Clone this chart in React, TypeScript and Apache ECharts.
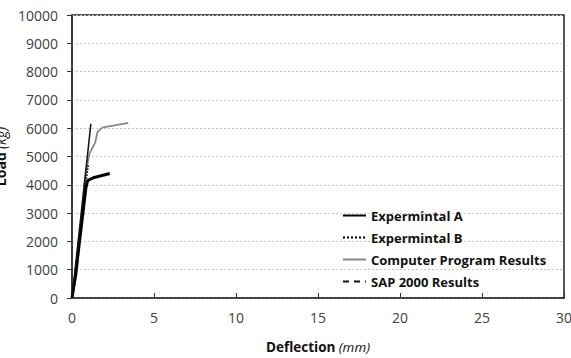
import React, { useEffect, useRef } from "react";
import * as echarts from "echarts";

const seriesNames = ["Expermintal A", "Expermintal B", "Computer Program Results", "SAP 2000 Results"];

const expA: [number, number][] = [
  [0, 0], [0.2, 750], [0.85, 3900], [0.95, 4150], [1.3, 4250], [2.3, 4400],
];
const expB: [number, number][] = [
  [0, 0], [0.15, 700], [0.75, 3700], [0.9, 4300], [1.0, 4700],
];
const computer: [number, number][] = [
  [0, 0], [0.3, 900], [0.75, 4000], [0.9, 4600], [1.06, 5100], [1.2, 5250],
  [1.4, 5470], [1.55, 5850], [1.7, 5950], [1.9, 6030], [2.6, 6100], [3.43, 6190],
];
const sap: [number, number][] = [
  [0, 0], [1.15, 6150],
];

const xTicks = { min: 0, max: 30, interval: 5 };
const yTicks = { min: 0, max: 10000, interval: 1000 };

export default function App() {
  const ref = useRef<HTMLDivElement>(null);
  useEffect(() => {
    if (!ref.current) return;
    const chart = echarts.init(ref.current, undefined, { renderer: "svg" });
    const font = "'Open Sans', sans-serif";
    chart.setOption({
      animation: false,
      backgroundColor: "#fff",
      grid: {
        left: 72, right: 7, top: 15, bottom: 60,
        containLabel: false,
        outerBoundsMode: "none",
        show: true, borderColor: "#222", borderWidth: 1.5,
      },
      legend: {
        show: true,
        orient: "vertical",
        left: 337,
        top: 204,
        itemWidth: 23,
        itemHeight: 10,
        itemGap: 9,
        itemStyle: { opacity: 0 },
        textStyle: { fontFamily: font, fontWeight: "bold", fontSize: 13, color: "#111" },
        data: [
          { name: seriesNames[0] },
          { name: seriesNames[1] },
          { name: seriesNames[2] },
          { name: seriesNames[3], lineStyle: { type: [6, 5], color: "#111", width: 2 } },
        ],
      },
      xAxis: {
        type: "value",
        min: xTicks.min, max: xTicks.max, interval: xTicks.interval,
        axisLine: { show: true, lineStyle: { color: "#333", width: 1.5 } },
        axisTick: { show: true, inside: true, length: 5, lineStyle: { color: "#333" } },
        axisLabel: { fontFamily: font, fontSize: 14, color: "#404040", margin: 12, formatter: (v: number) => String(v) },
        splitLine: { show: false },
        name: "{b|Deflection} {i|(mm)}",
        nameLocation: "middle",
        nameGap: 42,
        nameTextStyle: {
          rich: {
            b: { fontFamily: font, fontWeight: "bold", fontSize: 13.5, color: "#111" },
            i: { fontFamily: font, fontStyle: "italic", fontSize: 13.5, color: "#111" },
          },
        },
      },
      yAxis: {
        type: "value",
        min: yTicks.min, max: yTicks.max, interval: yTicks.interval,
        axisLine: { show: true, lineStyle: { color: "#333", width: 1.5 } },
        axisTick: { show: true, inside: false, length: 5, lineStyle: { color: "#333" } },
        axisLabel: { fontFamily: font, fontSize: 14, color: "#404040", margin: 14, formatter: (v: number) => String(v) },
        splitLine: { show: true, lineStyle: { color: "#c8c8c8", type: [2, 2], width: 1 } },
        name: "{b|Load} {i|(kg)}",
        nameLocation: "middle",
        nameRotate: 90,
        nameGap: 59,
        nameTextStyle: {
          rich: {
            b: { fontFamily: font, fontWeight: "bold", fontSize: 14, color: "#111" },
            i: { fontFamily: font, fontStyle: "italic", fontSize: 14, color: "#111" },
          },
        },
      },
      series: [
        {
          name: seriesNames[0], type: "line", data: expA, showSymbol: false, symbol: "none",
          lineStyle: { color: "#000", width: 3 }, itemStyle: { color: "#000" }, z: 3,
        },
        {
          name: seriesNames[1], type: "line", data: expB, showSymbol: false, symbol: "none",
          lineStyle: { color: "#000", width: 1.5, type: "dotted" }, itemStyle: { color: "#000" }, z: 4,
        },
        {
          name: seriesNames[2], type: "line", data: computer, showSymbol: false, symbol: "none",
          lineStyle: { color: "#888", width: 1.8 }, itemStyle: { color: "#888" }, z: 2,
        },
        {
          name: seriesNames[3], type: "line", data: sap, showSymbol: false, symbol: "none",
          lineStyle: { color: "#111", width: 1.5 }, itemStyle: { color: "#111" }, z: 5,
        },
      ],
    });
    return () => chart.dispose();
  }, []);
  return (
    <div
      ref={ref}
      style={{ position: "fixed", left: 0, top: 0, width: 571, height: 358, background: "#fff" }}
    />
  );
}
